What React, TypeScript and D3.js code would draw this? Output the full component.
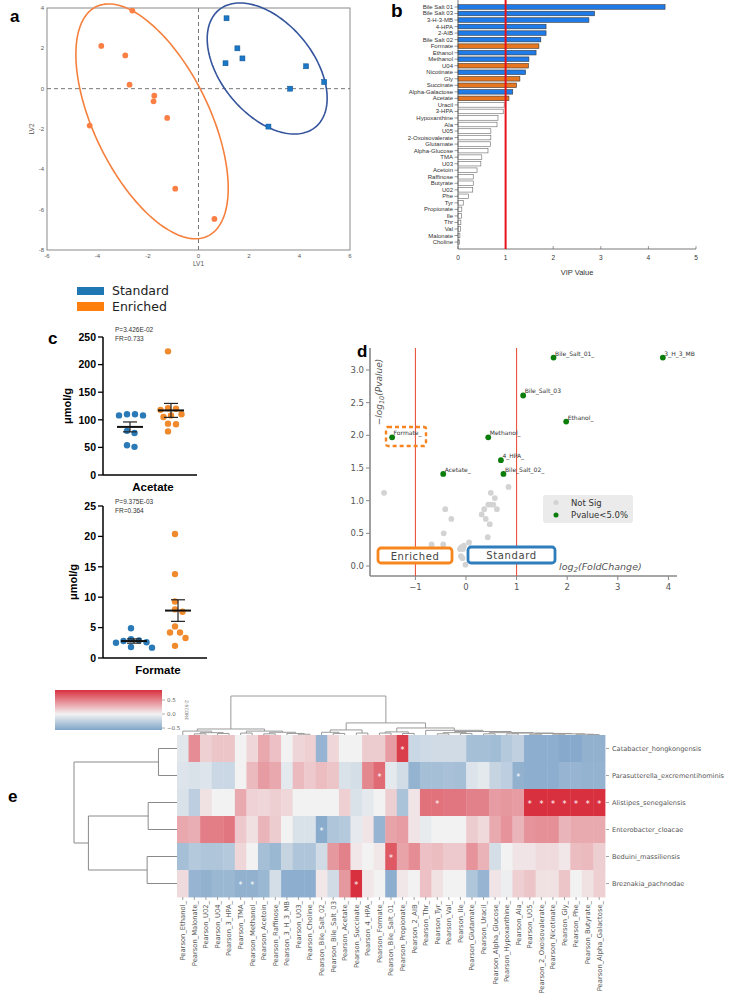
import React from 'react';
import * as d3 from 'd3';

const W = 736;
const H = 1000;
const sans = 'Liberation Sans, Arial, sans-serif';
const mpl = 'DejaVu Sans, sans-serif';

// ---- a: PLS-DA scores
const lvEnriched = [
  [-2.62, 3.87], [-3.85, 2.12], [-2.9, 1.65], [-2.73, 0.2], [-1.75, -0.35],
  [-1.78, -0.63], [-1.24, -1.45], [-4.31, -1.83], [-0.92, -4.96], [0.63, -6.46],
];
const lvStandard = [
  [1.11, 3.49], [1.54, 2.0], [1.74, 1.5], [1.07, 1.26], [4.26, 1.11],
  [4.98, 0.33], [3.63, 0.0], [2.77, -1.88],
];
// ellipse centre + covariance-like shape (data units)
const ellEnriched = { cx: -1.84, cy: -1.62, sxx: 9.1, sxy: -10.0, syy: 33.9 };
const ellStandard = { cx: 2.72, cy: 1.0, sxx: 5.64, sxy: -3.5, syy: 10.56 };

// ---- b: VIP scores
const vipNames = [
  'Bile Salt 01', 'Bile Salt 03', '3-H-3-MB', '4-HPA', '2-AIB', 'Bile Salt 02', 'Formate',
  'Ethanol', 'Methanol', 'U04', 'Nicotinate', 'Gly', 'Succinate', 'Alpha-Galactose', 'Acetate',
  'Uracil', '3-HPA', 'Hypoxanthine', 'Ala', 'U05', '2-Oxoisovalerate', 'Glutamate',
  'Alpha-Glucose', 'TMA', 'U03', 'Acetoin', 'Raffinose', 'Butyrate', 'U02', 'Phe', 'Tyr',
  'Propionate', 'Ile', 'Thr', 'Val', 'Malonate', 'Choline',
];
const vipValues = [
  4.35, 2.87, 2.75, 1.85, 1.85, 1.74, 1.7, 1.64, 1.49, 1.48, 1.42, 1.3, 1.23, 1.15, 1.07,
  0.97, 0.95, 0.84, 0.82, 0.69, 0.69, 0.68, 0.63, 0.5, 0.48, 0.4, 0.32, 0.32, 0.31, 0.22,
  0.11, 0.08, 0.07, 0.06, 0.05, 0.04, 0.035,
];
const vipGroup = [
  'S', 'S', 'S', 'S', 'S', 'S', 'E', 'S', 'S', 'E', 'S', 'E', 'E', 'S', 'E',
  'N', 'N', 'N', 'N', 'N', 'N', 'N', 'N', 'N', 'N', 'N', 'N', 'N', 'N', 'N', 'N', 'N', 'N',
  'N', 'N', 'N', 'N',
];

// ---- c: concentrations
const acetateStd = [110, 110, 108, 108, 80, 76, 54, 51];
const acetateEnr = [224, 121, 120, 118, 110, 108, 105, 93, 92, 79];
const formateStd = [4.9, 3.1, 2.9, 2.8, 2.6, 2.5, 1.8, 1.7];
const formateEnr = [20.4, 13.8, 9.3, 8.0, 7.6, 5.2, 4.2, 4.2, 3.3, 2.0];

// ---- d: volcano
const sigNames = ['Bile_Salt_01_', '3_H_3_MB', 'Bile_Salt_03', 'Ethanol_', 'Formate_', 'Methanol_', '4_HPA_', 'Acetate_', 'Bile_Salt_02_'];
const sigFC = [1.73, 3.89, 1.13, 1.98, -1.46, 0.44, 0.69, -0.45, 0.74];
const sigP = [3.19, 3.19, 2.61, 2.21, 1.97, 1.97, 1.62, 1.41, 1.41];
const nsFC = [
  -1.62, 0.49, 0.57, 0.84, 0.44, 0.49, 0.54, 0.61, 0.36, 0.31, 0.39, 0.47, 0.43, -0.41,
  -0.29, -0.44, -0.45, -0.68, -0.7, -0.09, -0.06, -0.12, -0.04, 0.06, -0.1, -0.07, -0.01,
];
const nsP = [
  1.12, 1.12, 1.04, 1.21, 0.94, 0.94, 0.94, 0.87, 0.87, 0.79, 0.72, 0.64, 0.44, 0.87,
  0.72, 0.5, 0.33, 0.33, 0.26, 0.29, 0.26, 0.26, 0.31, 0.36, 0.15, 0.12, 0.02,
];

// ---- e: correlation heatmap
const taxa = [
  'Catabacter_hongkongensis', 'Parasutterella_excrementihominis', 'Alistipes_senegalensis',
  'Enterobacter_cloacae', 'Beduini_massiliensis', 'Breznakia_pachnodae',
];
const metabolites = [
  'Pearson_Ethanol_', 'Pearson_Malonate_', 'Pearson_U02_', 'Pearson_U04_', 'Pearson_3_HPA_',
  'Pearson_TMA_', 'Pearson_Methanol_', 'Pearson_Acetoin_', 'Pearson_Raffinose_',
  'Pearson_3_H_3_MB', 'Pearson_U03_', 'Pearson_Choline_', 'Pearson_Bile_Salt_02_',
  'Pearson_Bile_Salt_03', 'Pearson_Acetate_', 'Pearson_Succinate_', 'Pearson_4_HPA_',
  'Pearson_Formate_', 'Pearson_Bile_Salt_01_', 'Pearson_Propionate_', 'Pearson_2_AIB_',
  'Pearson_Thr_', 'Pearson_Tyr_', 'Pearson_Val_', 'Pearson_Ile_', 'Pearson_Glutamate_',
  'Pearson_Uracil_', 'Pearson_Alpha_Glucose_', 'Pearson_Hypoxanthine_', 'Pearson_Ala_',
  'Pearson_U05_', 'Pearson_2_Oxoisovalerate_', 'Pearson_Nicotinate_', 'Pearson_Gly_',
  'Pearson_Phe_', 'Pearson_Butyrate_', 'Pearson_Alpha_Galactose_',
];
const zCatabacter = [-0.08, 0.45, 0.15, 0.2, 0.2, 0.0, 0.12, 0.33, 0.22, 0.0, 0.13, 0.15, -0.45, 0.12, 0.0, 0.0, 0.17, 0.17, 0.38, 0.8, -0.2, -0.18, -0.17, -0.17, -0.17, -0.38, -0.38, -0.4, -0.3, -0.25, -0.5, -0.5, -0.5, -0.53, -0.53, -0.48, -0.48];
const zParasutterella = [-0.1, -0.12, -0.1, -0.2, -0.2, 0.0, 0.25, 0.38, 0.33, -0.07, 0.25, 0.18, 0.24, 0.2, -0.12, -0.15, 0.47, 0.6, -0.07, -0.16, -0.47, -0.38, -0.38, -0.36, -0.38, -0.11, -0.07, -0.22, -0.27, -0.48, -0.5, -0.5, -0.5, -0.45, -0.45, -0.47, -0.47];
const zAlistipes = [-0.12, -0.27, 0.07, 0.0, 0.0, 0.32, 0.14, 0.12, 0.16, 0.12, 0.0, 0.0, 0.0, 0.0, 0.15, -0.12, -0.07, 0.0, 0.16, -0.35, 0.06, 0.57, 0.57, 0.55, 0.55, 0.5, 0.5, 0.38, 0.4, 0.38, 0.86, 0.86, 0.86, 0.86, 0.86, 0.86, 0.86];
const zEnterobacter = [0.33, 0.3, 0.52, 0.52, 0.55, 0.18, 0.08, 0.27, 0.17, 0.0, -0.12, -0.12, -0.52, -0.33, -0.3, -0.06, 0.06, -0.45, 0.35, 0.38, 0.06, -0.05, 0.0, 0.0, 0.0, 0.17, 0.11, 0.32, 0.42, 0.27, 0.42, 0.44, 0.44, 0.27, 0.32, 0.32, 0.32];
const zBeduini = [-0.38, -0.3, -0.33, -0.33, -0.3, 0.12, 0.0, -0.38, -0.43, -0.22, -0.33, -0.33, -0.17, 0.4, 0.5, 0.05, 0.0, 0.05, 0.68, 0.35, 0.45, 0.22, 0.24, 0.18, 0.18, 0.42, 0.28, -0.15, 0.0, 0.06, 0.06, 0.1, 0.1, 0.05, 0.24, 0.25, 0.16];
const zBreznakia = [0.1, -0.45, -0.48, -0.43, -0.43, -0.48, -0.48, -0.43, -0.15, -0.5, -0.5, -0.5, 0.05, -0.17, 0.4, 0.86, 0.05, 0.0, -0.5, 0.05, 0.0, 0.22, 0.07, 0.0, 0.0, -0.33, -0.45, 0.06, -0.03, 0.15, 0.2, 0.07, 0.07, 0.2, 0.0, 0.07, 0.15];
const zRows = [zCatabacter, zParasutterella, zAlistipes, zEnterobacter, zBeduini, zBreznakia];
const starCells = [
  [0, 19], [1, 17], [1, 29], [2, 22], [2, 30], [2, 31], [2, 32], [2, 33], [2, 34], [2, 35],
  [2, 36], [3, 12], [4, 18], [5, 5], [5, 6], [5, 15],
];

type Node = number | [Node, Node, number];
const rowTree: Node = [[0, 1, 0.18], [[2, 3, 0.28], [4, 5, 0.29], 0.86], 1.0];
const colTree: Node = [
  [
    [0, [[1, 2, 0.03], [3, 4, 0.04], 0.06], 0.1],
    [[5, 6, 0.05], [[7, 8, 0.03], [9, [10, 11, 0.02], 0.04], 0.07], 0.1],
    0.154,
  ],
  [
    [[12, [13, 14, 0.04], 0.07], [15, 16, 0.05], 0.13],
    [
      [[17, 18, 0.05], [19, 20, 0.04], 0.08],
      [21, [[[22, 23, 0.03], [24, 25, 0.04], 0.06], [[26, 27, 0.03], [[28, 29, 0.03], [[30, 31, 0.02], [[32, 33, 0.02], [34, [35, 36, 0.01], 0.02], 0.03], 0.04], 0.05], 0.06], 0.09], 0.12],
      0.18,
    ],
    0.31,
  ],
  1.0,
];

const layoutTree = (
  node: Node, leaf: (i: number) => number, hpos: (h: number) => number,
  segs: string[], vertical: boolean,
): { p: number; h: number } => {
  if (typeof node === 'number') return { p: leaf(node), h: 0 };
  const l = layoutTree(node[0], leaf, hpos, segs, vertical);
  const r = layoutTree(node[1], leaf, hpos, segs, vertical);
  const hv = hpos(node[2]);
  if (vertical) segs.push(`M${l.p},${hpos(l.h)}V${hv}H${r.p}V${hpos(r.h)}`);
  else segs.push(`M${hpos(l.h)},${l.p}H${hv}V${r.p}H${hpos(r.h)}`);
  return { p: (l.p + r.p) / 2, h: node[2] };
};

const ellipsePath = (e: any, sx: any, sy: any) => {
  const a = Math.sqrt(e.sxx);
  const b = e.sxy / a;
  const c = Math.sqrt(e.syy - b * b);
  const pts = d3.range(0, 2 * Math.PI, Math.PI / 90).map(t => [
    sx(e.cx + a * Math.cos(t)),
    sy(e.cy + b * Math.cos(t) + c * Math.sin(t)),
  ] as [number, number]);
  return d3.line().curve(d3.curveLinearClosed)(pts) || '';
};

const swarm = (values: number[], y: (v: number) => number, cx: number, r: number) => {
  const placed: { x: number; y: number }[] = [];
  [...values].sort((a, b) => b - a).forEach(v => {
    const py = y(v);
    let off = 0;
    for (let k = 0; k < 400; k++) {
      const cand = k === 0 ? 0 : (k % 2 ? 1 : -1) * Math.ceil(k / 2) * 0.5;
      if (placed.every(p => Math.hypot(p.x - (cx + cand), p.y - py) >= 2 * r + 1.2)) {
        off = cand;
        break;
      }
    }
    placed.push({ x: cx + off, y: py });
  });
  return placed;
};

const PanelA = () => {
  const x = d3.scaleLinear().domain([-6, 6]).range([47, 350]);
  const y = d3.scaleLinear().domain([-8, 4]).range([250, 8]);
  return (
    <g>
      <text x={10} y={22} fontSize={17} fontWeight='bold' fontFamily={sans}>a</text>
      <rect x={47} y={8} width={303} height={242} fill='none' stroke='#8a8a8a' strokeWidth={1} />
      <line x1={x(0)} x2={x(0)} y1={8} y2={250} stroke='#777' strokeDasharray='4,3' />
      <line x1={47} x2={350} y1={y(0)} y2={y(0)} stroke='#777' strokeDasharray='4,3' />
      {d3.range(-6, 7, 2).map(t => (
        <text key={`ax${t}`} x={x(t)} y={258} fontSize={6} fill='#555' textAnchor='middle' fontFamily={sans}>{t}</text>
      ))}
      {d3.range(-8, 5, 2).map(t => (
        <text key={`ay${t}`} x={44} y={y(t) + 2} fontSize={6} fill='#555' textAnchor='end' fontFamily={sans}>{t}</text>
      ))}
      <text x={x(0)} y={266} fontSize={6.5} fill='#555' textAnchor='middle' fontFamily={sans}>LV1</text>
      <text transform={`translate(34,${y(-2)}) rotate(-90)`} fontSize={6.5} fill='#555' textAnchor='middle' fontFamily={sans}>LV2</text>
      <path d={ellipsePath(ellEnriched, x, y)} fill='none' stroke='#f5803e' strokeWidth={1.6} />
      <path d={ellipsePath(ellStandard, x, y)} fill='none' stroke='#34549c' strokeWidth={1.6} />
      {lvEnriched.map((d, i) => (
        <circle key={`e${i}`} cx={x(d[0])} cy={y(d[1])} r={2.9} fill='#fa7f45' />
      ))}
      {lvStandard.map((d, i) => (
        <rect key={`s${i}`} x={x(d[0]) - 2.5} y={y(d[1]) - 2.5} width={5} height={5} fill='#1b78c8' stroke='#0d4f8c' strokeWidth={0.5} />
      ))}
    </g>
  );
};

const PanelB = () => {
  const x = d3.scaleLinear().domain([0, 5]).range([458, 696]);
  const y = d3.scaleBand().domain(vipNames).range([3.7, 245.3]).paddingInner(0.3).paddingOuter(0.15);
  const fills: Record<string, string> = { S: '#1f7be8', E: '#e6761f', N: '#ffffff' };
  return (
    <g>
      <text x={391} y={17} fontSize={19} fontWeight='bold' fontFamily={sans}>b</text>
      {vipNames.map((n, i) => (
        <g key={n}>
          <rect x={x(0)} y={y(n)} width={x(vipValues[i]) - x(0)} height={y.bandwidth()}
            fill={fills[vipGroup[i]]} stroke={vipGroup[i] === 'N' ? '#666' : '#3a3a3a'} strokeWidth={0.6} />
          <line x1={x(0) - 3.5} x2={x(0)} y1={y(n)! + y.bandwidth() / 2} y2={y(n)! + y.bandwidth() / 2} stroke='#555' strokeWidth={0.6} />
          <text x={x(0) - 5} y={y(n)! + y.bandwidth() / 2 + 2} fontSize={6} fill='#333' textAnchor='end' fontFamily={sans}>{n}</text>
        </g>
      ))}
      <line x1={x(0)} x2={x(0)} y1={0} y2={249} stroke='#555' strokeWidth={0.8} />
      <line x1={x(0)} x2={x(5)} y1={249} y2={249} stroke='#555' strokeWidth={0.8} />
      {d3.range(0, 6).map(t => (
        <g key={`bt${t}`}>
          <line x1={x(t)} x2={x(t)} y1={246} y2={249} stroke='#555' strokeWidth={0.6} />
          <text x={x(t)} y={260} fontSize={6.5} fill='#333' textAnchor='middle' fontFamily={sans}>{t}</text>
        </g>
      ))}
      <text x={(x(0) + x(5)) / 2} y={275} fontSize={7.5} fill='#333' textAnchor='middle' fontFamily={sans}>VIP Value</text>
      <line x1={x(1)} x2={x(1)} y1={0} y2={249} stroke='#e8121a' strokeWidth={2} />
    </g>
  );
};

const DotPlot = ({ std, enr, yMax, step, top, bottom, xEnd, cs, ce, title, pLine, frLine, pY }: any) => {
  const y = d3.scaleLinear().domain([0, yMax]).range([bottom, top]);
  const r = 3.2;
  const groups = [
    { vals: std, c: cs, fill: '#2a7ab8' },
    { vals: enr, c: ce, fill: '#f08a2c' },
  ];
  return (
    <g>
      <line x1={103} x2={103} y1={top} y2={bottom} stroke='#000' strokeWidth={1.5} />
      <line x1={103} x2={xEnd} y1={bottom} y2={bottom} stroke='#000' strokeWidth={1.5} />
      {d3.range(0, yMax + 0.001, step).map(t => (
        <g key={`t${t}`}>
          <line x1={98} x2={103} y1={y(t)} y2={y(t)} stroke='#000' strokeWidth={1.3} />
          <text x={96} y={y(t) + 3.8} fontSize={10.5} fontWeight='bold' textAnchor='end' fontFamily={sans}>{t}</text>
        </g>
      ))}
      <text transform={`translate(${step > 10 ? 71 : 77},${(top + bottom) / 2}) rotate(-90)`} fontSize={11} fontWeight='bold' textAnchor='middle' fontFamily={sans}>μmol/g</text>
      <text x={(103 + xEnd) / 2 + 3} y={bottom + 16} fontSize={11.5} fontWeight='bold' textAnchor='middle' fontFamily={sans}>{title}</text>
      <text x={115} y={pY} fontSize={6.5} fill='#333' fontFamily={sans}>{pLine}</text>
      <text x={115} y={pY + 8.5} fontSize={6.5} fill='#333' fontFamily={sans}>{frLine}</text>
      {groups.map((g, gi) => {
        const m = d3.mean(g.vals as number[])!;
        const sem = d3.deviation(g.vals as number[])! / Math.sqrt(g.vals.length);
        return (
          <g key={`g${gi}`}>
            {swarm(g.vals, y, g.c - 3, r).map((p, i) => (
              <circle key={i} cx={p.x} cy={p.y} r={r} fill={g.fill} />
            ))}
            <line x1={g.c} x2={g.c} y1={y(m - sem)} y2={y(m + sem)} stroke='#222' strokeWidth={1.2} />
            <line x1={g.c - 7} x2={g.c + 7} y1={y(m + sem)} y2={y(m + sem)} stroke='#222' strokeWidth={1.2} />
            <line x1={g.c - 7} x2={g.c + 7} y1={y(m - sem)} y2={y(m - sem)} stroke='#222' strokeWidth={1.2} />
            <line x1={g.c - 13} x2={g.c + 13} y1={y(m)} y2={y(m)} stroke='#111' strokeWidth={2} />
          </g>
        );
      })}
    </g>
  );
};

const PanelC = () => (
  <g>
    <text x={48} y={344} fontSize={17} fontWeight='bold' fontFamily={sans}>c</text>
    <rect x={77} y={287} width={27} height={8} fill='#1f77b4' />
    <text x={112} y={295} fontSize={12.5} fill='#222' fontFamily={mpl}>Standard</text>
    <rect x={77} y={302} width={27} height={9} fill='#ff7f0e' />
    <text x={112} y={311} fontSize={12.5} fill='#222' fontFamily={mpl}>Enriched</text>
    <DotPlot std={acetateStd} enr={acetateEnr} yMax={250} step={50} top={337} bottom={475} xEnd={197}
      cs={130} ce={171} title='Acetate' pLine='P=3.426E-02' frLine='FR=0.733' pY={332} />
    <DotPlot std={formateStd} enr={formateEnr} yMax={25} step={5} top={506} bottom={658} xEnd={207}
      cs={134} ce={178} title='Formate' pLine='P=9.375E-03' frLine='FR=0.364' pY={504} />
  </g>
);

const PanelD = () => {
  const x = d3.scaleLinear().domain([-1, 4]).range([415.4, 668.4]);
  const y = d3.scaleLinear().domain([0, 3]).range([566, 370]);
  return (
    <g>
      <text x={357} y={357} fontSize={17} fontWeight='bold' fontFamily={sans}>d</text>
      <line x1={370} x2={370} y1={348} y2={576} stroke='#888' strokeWidth={1.6} />
      <line x1={370} x2={677} y1={576} y2={576} stroke='#888' strokeWidth={1.6} />
      {d3.range(0, 3.01, 0.5).map(t => (
        <g key={`dy${t}`}>
          <line x1={366} x2={370} y1={y(t)} y2={y(t)} stroke='#888' />
          <text x={364} y={y(t) + 3} fontSize={8.5} fill='#555' textAnchor='end' fontFamily={mpl}>{t.toFixed(1)}</text>
        </g>
      ))}
      {d3.range(-1, 5).map(t => (
        <g key={`dx${t}`}>
          <line x1={x(t)} x2={x(t)} y1={576} y2={580} stroke='#888' />
          <text x={x(t)} y={590} fontSize={8.5} fill='#555' textAnchor='middle' fontFamily={mpl}>{t < 0 ? `\u2212${-t}` : t}</text>
        </g>
      ))}
      <line x1={x(-1)} x2={x(-1)} y1={348} y2={576} stroke='#e8452c' strokeWidth={1} />
      <line x1={x(1)} x2={x(1)} y1={348} y2={576} stroke='#e8452c' strokeWidth={1} />
      <text transform={`translate(382,392) rotate(-90)`} fontSize={9} fill='#555' fontStyle='italic' textAnchor='middle' fontFamily={mpl}>
        −log<tspan fontSize={6.5} dy={2}>10</tspan><tspan dy={-2}>(Pvalue)</tspan>
      </text>
      <text x={559} y={570} fontSize={9.5} fill='#555' fontStyle='italic' fontFamily={mpl}>
        log<tspan fontSize={7} dy={2}>2</tspan><tspan dy={-2}>(FoldChange)</tspan>
      </text>
      {nsFC.map((f, i) => (
        <circle key={`ns${i}`} cx={x(f)} cy={y(nsP[i])} r={2.9} fill='#d3d3d3' />
      ))}
      {sigFC.map((f, i) => (
        <g key={`sg${i}`}>
          <circle cx={x(f)} cy={y(sigP[i])} r={2.9} fill='#0b7d0b' />
          <text x={x(f) + 1.5} y={y(sigP[i]) - 2} fontSize={6} fill='#333' fontFamily={mpl}>{sigNames[i]}</text>
        </g>
      ))}
      <rect x={386} y={427} width={40} height={19} rx={2} fill='none' stroke='#f68420' strokeWidth={2.4} strokeDasharray='4,3' />
      <rect x={543} y={495} width={90} height={28} rx={3} fill='#ebebeb' />
      <circle cx={556} cy={502.5} r={2.5} fill='#d3d3d3' />
      <text x={571} y={505.5} fontSize={8.5} fill='#333' fontFamily={mpl}>Not Sig</text>
      <circle cx={556} cy={515} r={2.5} fill='#0b7d0b' />
      <text x={571} y={518} fontSize={8.5} fill='#333' fontFamily={mpl}>Pvalue&lt;5.0%</text>
      <rect x={378} y={548} width={74} height={15} rx={3} fill='#fff' stroke='#f7861f' strokeWidth={2.8} />
      <text x={415} y={559.5} fontSize={10} letterSpacing={0.6} fill='#444' textAnchor='middle' fontFamily={mpl}>Enriched</text>
      <rect x={468} y={547} width={87} height={16} rx={3} fill='#fff' stroke='#2f7dbb' strokeWidth={2.8} />
      <text x={511.5} y={559} fontSize={10} letterSpacing={0.6} fill='#444' textAnchor='middle' fontFamily={mpl}>Standard</text>
    </g>
  );
};

const PanelE = () => {
  const x = d3.scaleBand().domain(d3.range(metabolites.length).map(String)).range([177, 605]);
  const y = d3.scaleBand().domain(d3.range(taxa.length).map(String)).range([735, 897]);
  const color = d3.scaleLinear<string>().domain([-0.57, 0, 0.86]).range(['#7fa5c9', '#f2f2f2', '#d9303f']);
  const colSegs: string[] = [];
  layoutTree(colTree, i => x(String(i))! + x.bandwidth() / 2, d3.scaleLinear().domain([0, 1]).range([735, 696]), colSegs, true);
  const rowSegs: string[] = [];
  layoutTree(rowTree, i => y(String(i))! + y.bandwidth() / 2, d3.scaleLinear().domain([0, 1]).range([177, 74]), rowSegs, false);
  const cb = d3.scaleLinear().domain([-0.57, 0.86]).range([730, 690]);
  const stops = d3.range(0, 1.0001, 0.1);
  return (
    <g>
      <defs>
        <linearGradient id='zbar' x1='0' y1='1' x2='0' y2='0'>
          {stops.map(s => (
            <stop key={s} offset={s} stopColor={color(-0.57 + s * 1.43)} />
          ))}
        </linearGradient>
      </defs>
      <text x={8} y={802} fontSize={17} fontWeight='bold' fontFamily={sans}>e</text>
      <rect x={55} y={690} width={107} height={40} fill='url(#zbar)' />
      {[0.5, 0, -0.5].map(t => (
        <g key={`cb${t}`}>
          <line x1={162} x2={165} y1={cb(t)} y2={cb(t)} stroke='#777' strokeWidth={0.6} />
          <text x={167} y={cb(t) + 2} fontSize={5.5} fill='#666' fontFamily={mpl}>{t < 0 ? '\u22120.5' : t.toFixed(1)}</text>
        </g>
      ))}
      <text transform='translate(185,710) rotate(90)' fontSize={4.5} fill='#777' textAnchor='middle' fontFamily={mpl}>Z-SCORE</text>
      {zRows.map((row, ri) => row.map((v, ci) => (
        <rect key={`c${ri}-${ci}`} x={x(String(ci))} y={y(String(ri))} width={x.bandwidth() + 0.4}
          height={y.bandwidth() + 0.4} fill={color(v)} />
      )))}
      {starCells.map(([ri, ci]) => (
        <text key={`st${ri}-${ci}`} x={x(String(ci))! + x.bandwidth() / 2} y={y(String(ri))! + y.bandwidth() / 2 + 4}
          fontSize={8} fill='#fff' textAnchor='middle' fontFamily={mpl}>*</text>
      ))}
      {colSegs.map((d, i) => <path key={`cs${i}`} d={d} fill='none' stroke='#9a9a9a' strokeWidth={1} />)}
      {rowSegs.map((d, i) => <path key={`rs${i}`} d={d} fill='none' stroke='#8a8a8a' strokeWidth={1} />)}
      {taxa.map((t, i) => (
        <g key={t}>
          <line x1={606} x2={609} y1={y(String(i))! + y.bandwidth() / 2} y2={y(String(i))! + y.bandwidth() / 2} stroke='#666' strokeWidth={0.6} />
          <text x={612} y={y(String(i))! + y.bandwidth() / 2 + 2.5} fontSize={6.6} fill='#555' fontFamily={mpl}>{t}</text>
        </g>
      ))}
      {metabolites.map((m, i) => {
        const cx = x(String(i))! + x.bandwidth() / 2;
        return (
          <g key={m}>
            <line x1={cx} x2={cx} y1={897} y2={900} stroke='#666' strokeWidth={0.6} />
            <text transform={`translate(${cx + 2.4},901) rotate(-90)`} fontSize={6.8} fill='#555' textAnchor='end' fontFamily={mpl}>{m}</text>
          </g>
        );
      })}
    </g>
  );
};

const App = () => (
  <svg width={W} height={H} viewBox={`0 0 ${W} ${H}`} style={{ position: 'absolute', left: 0, top: 0, background: '#fff' }}>
    <rect width={W} height={H} fill='#fff' />
    <PanelA />
    <PanelB />
    <PanelC />
    <PanelD />
    <PanelE />
  </svg>
);

export default App;
